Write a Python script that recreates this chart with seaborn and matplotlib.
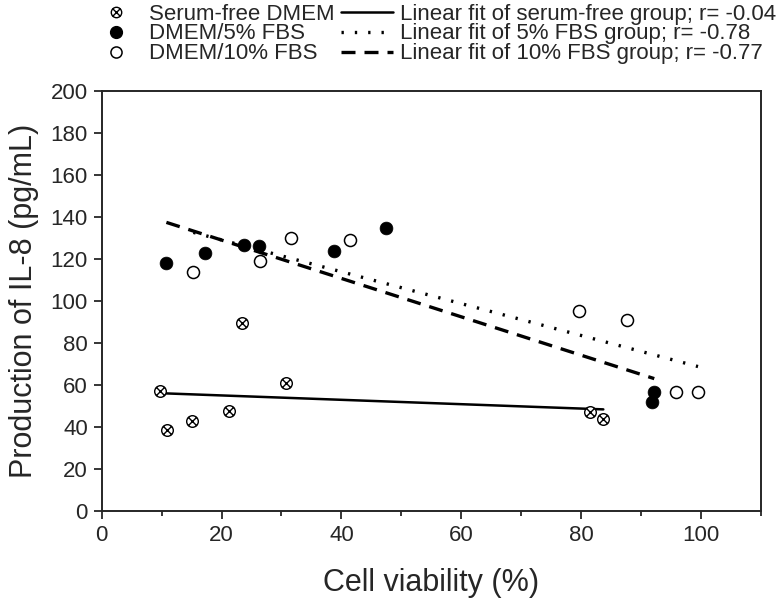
import numpy as np
import pandas as pd
import matplotlib
matplotlib.use("Agg")
import matplotlib.pyplot as plt
from matplotlib.path import Path
from matplotlib.lines import Line2D
import seaborn as sns

# values
sf_x = [9.7, 10.9, 15.1, 21.3, 23.4, 30.7, 81.4, 83.7]
sf_y = [57.1, 38.5, 42.9, 47.7, 89.3, 61.0, 46.9, 43.6]
fbs5_x = [10.8, 17.3, 23.8, 26.2, 38.8, 47.5, 92.2, 91.8]
fbs5_y = [117.8, 122.5, 126.3, 125.9, 123.5, 134.8, 56.4, 51.7]
fbs10_x = [15.3, 26.5, 31.6, 41.4, 79.7, 87.7, 95.8, 99.5]
fbs10_y = [113.8, 118.9, 130.0, 129.1, 95.3, 90.9, 56.4, 56.4]

groups = ["Serum-free DMEM", "DMEM/5% FBS", "DMEM/10% FBS"]
fit_labels = ["Linear fit of serum-free group; r= -0.04",
              "Linear fit of 5% FBS group; r= -0.78",
              "Linear fit of 10% FBS group; r= -0.77"]

df = pd.DataFrame({
    "viability": sf_x + fbs5_x + fbs10_x,
    "il8": sf_y + fbs5_y + fbs10_y,
    "group": [groups[0]] * len(sf_x) + [groups[1]] * len(fbs5_x) + [groups[2]] * len(fbs10_x),
})

sns.set_style("ticks")
plt.rcParams["font.family"] = ["Liberation Sans", "DejaVu Sans"]

# circle with a cross inside
d = 0.72
cross = Path([(-d, -d), (d, d), (-d, d), (d, -d)],
             [Path.MOVETO, Path.LINETO, Path.MOVETO, Path.LINETO])
crossed = Path.make_compound_path(Path.unit_circle(), cross)

fig = plt.figure(figsize=(7.76, 5.98), dpi=100)
ax = fig.add_axes([0.131, 0.146, 0.8496, 0.7023])

solid = dict(linestyle="-", linewidth=1.8)
dashed = dict(linestyle=(0, (4.2, 2.7)), linewidth=2.4)
dotted = dict(linestyle=(0, (0.7, 3.3)), linewidth=2.4)
# as drawn in the source: dashed follows the 5% points, dotted the 10% points
fit_style = {groups[0]: solid, groups[1]: dashed, groups[2]: dotted}

for g in groups:
    sub = df[df["group"] == g]
    sns.regplot(data=sub, x="viability", y="il8", ax=ax, ci=None, scatter=False,
                truncate=True, color="black", line_kws=fit_style[g])

sub = df[df["group"] == groups[0]]
sns.scatterplot(data=sub, x="viability", y="il8", ax=ax, marker=crossed, s=70,
                color="white", edgecolor="black", linewidth=1.0, zorder=3)
sub = df[df["group"] == groups[1]]
sns.scatterplot(data=sub, x="viability", y="il8", ax=ax, marker="o", s=85,
                color="black", edgecolor="black", linewidth=0.5, zorder=3)
sub = df[df["group"] == groups[2]]
sns.scatterplot(data=sub, x="viability", y="il8", ax=ax, marker="o", s=75,
                color="white", edgecolor="black", linewidth=1.1, zorder=3)

ax.set_xlim(0, 110)
ax.set_ylim(0, 200)
ax.set_xticks(np.arange(0, 101, 20))
ax.set_xticks(np.arange(10, 111, 20), minor=True)
ax.set_yticks(np.arange(0, 201, 20))
ax.tick_params(axis="both", which="major", direction="out", length=6, width=1.3,
               labelsize=16, pad=4)
ax.tick_params(axis="x", which="minor", direction="out", length=3.5, width=1.3)
for s in ax.spines.values():
    s.set_visible(True)
    s.set_linewidth(1.4)
ax.set_xlabel("Cell viability (%)", fontsize=22, labelpad=16)
ax.set_ylabel("Production of IL-8 (pg/mL)", fontsize=22, labelpad=8)

handles = [
    Line2D([], [], linestyle="none", marker=crossed, markersize=7.5, markerfacecolor="white",
           markeredgecolor="black", markeredgewidth=1.0),
    Line2D([], [], linestyle="none", marker="o", markersize=8.5, markerfacecolor="black",
           markeredgecolor="black"),
    Line2D([], [], linestyle="none", marker="o", markersize=8, markerfacecolor="white",
           markeredgecolor="black", markeredgewidth=1.1),
    Line2D([], [], color="black", **solid),
    Line2D([], [], color="black", **dotted),
    Line2D([], [], color="black", **dashed),
]
labels = groups + fit_labels
fig.legend(handles, labels, ncol=2, loc="upper left", bbox_to_anchor=(0.1147, 0.996),
           frameon=False, fontsize=16, handlelength=2.35, handletextpad=0.3,
           columnspacing=0.27, labelspacing=-0.05, borderpad=0.05, borderaxespad=0)

fig.savefig("out.png", dpi=100)
